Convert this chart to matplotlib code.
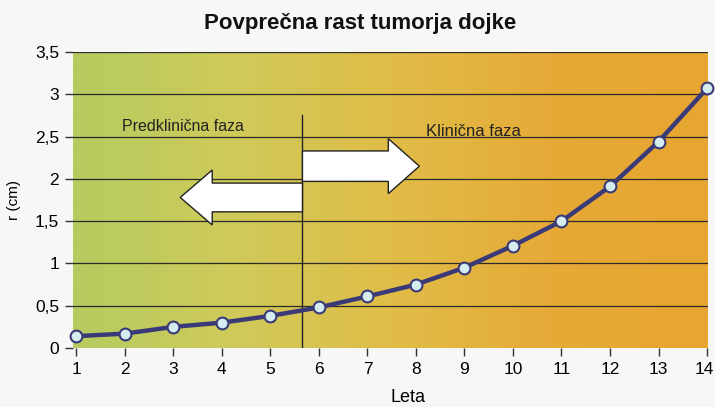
import numpy as np
import matplotlib.pyplot as plt
import matplotlib.transforms as mtransforms
from matplotlib.colors import LinearSegmentedColormap
from matplotlib.patches import FancyArrow

# ---- Data ----
leta = [1, 2, 3, 4, 5, 6, 7, 8, 9, 10, 11, 12, 13, 14]
r_cm = [0.14, 0.17, 0.25, 0.30, 0.38, 0.48, 0.61, 0.75, 0.95, 1.21, 1.50, 1.91, 2.44, 3.07]
y_ticks = [0, 0.5, 1, 1.5, 2, 2.5, 3, 3.5]
y_tick_labels = ["0", "0,5", "1", "1,5", "2", "2,5", "3", "3,5"]
phase_split = 5.66

sans = ["Liberation Sans", "DejaVu Sans"]

fig = plt.figure(figsize=(7.15, 4.07), dpi=100, facecolor="#f7f7f5")
ax = fig.add_axes([73 / 715, 59 / 407, 635 / 715, 296 / 407])
ax.set_xlim(0.93, 14.02)
ax.set_ylim(0, 3.5)

# ---- Background gradient green -> yellow -> orange ----
cmap = LinearSegmentedColormap.from_list(
    "bg", ["#b6cc60", "#cfca5a", "#e0bd48", "#e6aa37", "#e8a531"])
grad = np.linspace(0, 1, 256).reshape(1, -1)
ax.imshow(grad, cmap=cmap, aspect="auto", extent=[0.93, 14.02, 0, 3.5],
          zorder=0, interpolation="bilinear")

# ---- Grid ----
for yv in y_ticks[1:]:
    ax.axhline(yv, color="#2a2a2a", lw=0.9, zorder=1)

# ---- Phase divider ----
ax.plot([phase_split, phase_split], [0, 2.75], color="#222222", lw=1.0, zorder=2)

# ---- Arrows ----
ax.add_patch(FancyArrow(phase_split, 1.78, -(phase_split - 3.14), 0, width=0.34,
                        head_width=0.65, head_length=0.66, length_includes_head=True,
                        facecolor="white", edgecolor="#222222", lw=1.0, zorder=3))
ax.add_patch(FancyArrow(phase_split, 2.15, 8.07 - phase_split, 0, width=0.36,
                        head_width=0.65, head_length=0.64, length_includes_head=True,
                        facecolor="white", edgecolor="#222222", lw=1.0, zorder=3))

ax.text(3.2, 2.62, "Predklinična faza", ha="center", va="center",
        fontsize=11.5, family=sans, color="#222222")
ax.text(9.19, 2.56, "Klinična faza", ha="center", va="center",
        fontsize=12, family=sans, color="#222222")

# ---- Growth curve ----
ax.plot(leta, r_cm, color="#3b3a78", lw=3.2, zorder=4, solid_capstyle="round")
ax.plot(leta, r_cm, "o", ms=8.5, markerfacecolor="#d6edf0",
        markeredgecolor="#3b3a78", markeredgewidth=1.5, zorder=5, clip_on=False)

# ---- Axes styling ----
for s in ax.spines.values():
    s.set_visible(False)
ax.set_xticks(leta)
ax.set_xticklabels([str(v) for v in leta], family=sans, fontsize=12.5)
ax.set_yticks(y_ticks)
ax.set_yticklabels(y_tick_labels, family=sans, fontsize=12.5)
ax.tick_params(axis="both", length=6, width=1.0, color="#333333", pad=4)
# keep the last label inside the canvas
last = ax.get_xticklabels()[-1]
last.set_transform(last.get_transform() +
                   mtransforms.ScaledTranslation(-3 / 100, 0, fig.dpi_scale_trans))
ax.set_xlabel("Leta", family=sans, fontsize=13)
ax.xaxis.set_label_coords(0.527, -0.14)
ax.set_ylabel("r (cm)", family=sans, fontsize=11, labelpad=10)

fig.text(0.503, 0.943, "Povprečna rast tumorja dojke", ha="center", va="center",
         fontsize=16, fontweight="bold", family=sans, color="#111111")

fig.savefig("out.png", dpi=100, facecolor=fig.get_facecolor())
